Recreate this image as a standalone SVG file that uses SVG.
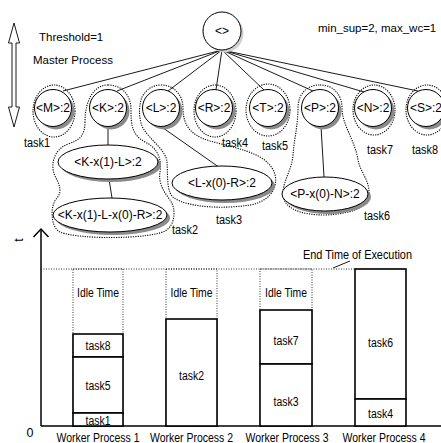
<svg xmlns="http://www.w3.org/2000/svg" width="441" height="443" viewBox="0 0 441 443">
  <style>
    text { font-family: "Liberation Sans", Arial, sans-serif; fill: #000; }
    .lbl { font-size: 11.5px; }
    .nar { font-size: 12.5px; }
    .nd { font-size: 12px; text-anchor: middle; }
    .mid { text-anchor: middle; }
    .node { fill: #fff; stroke: #000; stroke-width: 1; }
    .shadow { fill: #8a8a8a; stroke: none; }
    .group { fill: none; stroke: #000; stroke-width: 1.1; stroke-dasharray: 1.2 1.2; }
    .edge { stroke: #000; stroke-width: 0.9; fill: none; }
    .task { fill: #fff; stroke: #000; stroke-width: 1.6; }
    .idle { fill: none; stroke: #000; stroke-width: 0.8; stroke-dasharray: 1 1.5; }
    .axis { stroke: #000; stroke-width: 1.5; fill: none; }
  </style>

  <!-- side annotations -->
  <g id="level-arrow">
    <polygon points="14,23 19.5,43 16,43 16,107 19.5,107 14,127 8.5,107 12,107 12,43 8.5,43" fill="#fff" stroke="#000" stroke-width="0.9"/>
  </g>
  <text class="lbl" x="39" y="41">Threshold=1</text>
  <text class="lbl" x="33" y="64" font-size="11.3">Master Process</text>
  <text class="lbl" x="318" y="32" font-size="11.2">min_sup=2, max_wc=1</text>

  <!-- task groupings (dotted outlines) -->
  <g id="groups">
    <ellipse id="task1-outline" class="group" cx="54" cy="111" rx="21" ry="26"/>
    <path id="task2-outline" class="group" d="M108 85 C122 85 131 95 131 110 C131 125 132 135 145 142 C158 148 162 160 160 172 C158 183 164 192 170 200 C176 208 176 225 165 231 C150 239 80 240 60 232 C50 227 50 205 57 198 C62 192 60 186 56 178 C50 168 52 150 68 144 C80 140 85 135 85 122 C85 100 94 85 108 85 Z"/>
    <path id="task3-outline" class="group" d="M161 85 C174 85 183 95 183 108 C183 125 190 135 210 141 C235 148 262 152 272 168 C280 180 276 200 250 205 C225 209 190 208 174 198 C166 192 168 175 167 162 C166 150 150 140 143 128 C138 118 139 105 142 97 C146 90 152 85 161 85 Z"/>
    <ellipse id="task4-outline" class="group" cx="215" cy="111" rx="21" ry="26"/>
    <ellipse id="task5-outline" class="group" cx="268" cy="110" rx="22" ry="26"/>
    <path id="task6-outline" class="group" d="M320 85 C334 85 342 95 342 108 C342 125 355 140 358 160 C360 172 370 180 369 195 C368 208 350 214 325 215 C300 215 283 208 283 194 C283 180 292 170 293 155 C294 140 298 125 298 108 C298 95 306 85 320 85 Z"/>
    <ellipse id="task7-outline" class="group" cx="374" cy="110" rx="21" ry="25"/>
    <ellipse id="task8-outline" class="group" cx="427" cy="110" rx="21" ry="25"/>
  </g>

  <!-- tree edges -->
  <g id="connectors">
    <line class="edge" x1="222" y1="50" x2="63" y2="91"/>
    <line class="edge" x1="222" y1="50" x2="117" y2="91"/>
    <line class="edge" x1="222" y1="50" x2="168" y2="91"/>
    <line class="edge" x1="222" y1="50" x2="216" y2="89.5"/>
    <line class="edge" x1="222" y1="50" x2="264" y2="90"/>
    <line class="edge" x1="222" y1="50" x2="313" y2="91"/>
    <line class="edge" x1="222" y1="50" x2="364" y2="92"/>
    <line class="edge" x1="222" y1="50" x2="418" y2="91"/>
    <line class="edge" x1="108" y1="126.5" x2="108" y2="145"/>
    <line class="edge" x1="109" y1="179" x2="112" y2="198"/>
    <line class="edge" x1="161" y1="126.5" x2="218" y2="166.5"/>
    <line class="edge" x1="321" y1="126.5" x2="324" y2="177"/>
  </g>

  <!-- nodes -->
  <g id="root">
    <circle cx="224.5" cy="33.5" r="19" fill="#cfcfcf"/>
    <circle class="node" cx="222" cy="31" r="19"/>
    <text class="nd" x="222" y="35">&lt;&gt;</text>
  </g>
  <g id="n-M">
    <circle class="shadow" cx="56" cy="111" r="18.5"/>
    <circle class="node" cx="53" cy="108" r="18.5"/>
    <text class="nd" x="53" y="112">&lt;M&gt;:2</text>
  </g>
  <g id="n-K">
    <circle class="shadow" cx="111" cy="111" r="18.5"/>
    <circle class="node" cx="108" cy="108" r="18.5"/>
    <text class="nd" x="108" y="112">&lt;K&gt;:2</text>
  </g>
  <g id="n-L">
    <circle class="shadow" cx="164" cy="111" r="18.5"/>
    <circle class="node" cx="161" cy="108" r="18.5"/>
    <text class="nd" x="161" y="112">&lt;L&gt;:2</text>
  </g>
  <g id="n-R">
    <circle class="shadow" cx="217" cy="111" r="18.5"/>
    <circle class="node" cx="214" cy="108" r="18.5"/>
    <text class="nd" x="214" y="112">&lt;R&gt;:2</text>
  </g>
  <g id="n-T">
    <circle class="shadow" cx="271" cy="111" r="18.5"/>
    <circle class="node" cx="268" cy="108" r="18.5"/>
    <text class="nd" x="268" y="112">&lt;T&gt;:2</text>
  </g>
  <g id="n-P">
    <circle class="shadow" cx="323" cy="111" r="18.5"/>
    <circle class="node" cx="320" cy="108" r="18.5"/>
    <text class="nd" x="320" y="112">&lt;P&gt;:2</text>
  </g>
  <g id="n-N">
    <circle class="shadow" cx="376" cy="111" r="18.5"/>
    <circle class="node" cx="373" cy="108" r="18.5"/>
    <text class="nd" x="373" y="112">&lt;N&gt;:2</text>
  </g>
  <g id="n-S">
    <circle class="shadow" cx="429" cy="111" r="18.5"/>
    <circle class="node" cx="426" cy="108" r="18.5"/>
    <text class="nd" x="426" y="112">&lt;S&gt;:2</text>
  </g>
  <g id="n-KL">
    <ellipse class="shadow" cx="111" cy="165" rx="50" ry="17"/>
    <ellipse class="node" cx="108" cy="162" rx="50" ry="17"/>
    <text class="nd" x="108" y="166">&lt;K-x(1)-L&gt;:2</text>
  </g>
  <g id="n-KLR">
    <ellipse class="shadow" cx="113" cy="218" rx="57" ry="17"/>
    <ellipse class="node" cx="110" cy="215" rx="57" ry="17"/>
    <text class="nd" x="110" y="219">&lt;K-x(1)-L-x(0)-R&gt;:2</text>
  </g>
  <g id="n-LR">
    <ellipse class="shadow" cx="225" cy="186" rx="50" ry="17"/>
    <ellipse class="node" cx="222" cy="183" rx="50" ry="17"/>
    <text class="nd" x="222" y="187">&lt;L-x(0)-R&gt;:2</text>
  </g>
  <g id="n-PN">
    <ellipse class="shadow" cx="328" cy="197" rx="43" ry="17"/>
    <ellipse class="node" cx="325" cy="194" rx="43" ry="17"/>
    <text class="nd" x="325" y="198">&lt;P-x(0)-N&gt;:2</text>
  </g>

  <!-- task labels (condensed to the narrow face used in the figure) -->
  <g id="task-labels" class="nar">
    <text x="24" y="147" textLength="26" lengthAdjust="spacingAndGlyphs">task1</text>
    <text x="172" y="234" textLength="26" lengthAdjust="spacingAndGlyphs">task2</text>
    <text x="216" y="224" textLength="26" lengthAdjust="spacingAndGlyphs">task3</text>
    <text x="222" y="147" textLength="26" lengthAdjust="spacingAndGlyphs">task4</text>
    <text x="262" y="150" textLength="26" lengthAdjust="spacingAndGlyphs">task5</text>
    <text x="364" y="220" textLength="26" lengthAdjust="spacingAndGlyphs">task6</text>
    <text x="367" y="154" textLength="26" lengthAdjust="spacingAndGlyphs">task7</text>
    <text x="412" y="154" textLength="26" lengthAdjust="spacingAndGlyphs">task8</text>
  </g>

  <!-- schedule chart -->
  <g id="chart">
    <line class="axis" x1="41" y1="229" x2="41" y2="426"/>
    <polyline class="axis" points="33.5,237 41,229 48.5,237"/>
    <line class="axis" x1="41" y1="426" x2="441" y2="426"/>
    <text class="nar" transform="translate(23 240) rotate(-90)" text-anchor="middle">t</text>
    <text class="nar" x="30" y="437" text-anchor="middle">0</text>

    <line class="idle" x1="41" y1="269" x2="405" y2="269"/>
    <line class="edge" x1="333" y1="268" x2="350" y2="261"/>
    <text class="nar mid" x="357.5" y="259" font-size="13" textLength="109" lengthAdjust="spacingAndGlyphs">End Time of Execution</text>

    <g id="worker1">
      <rect class="idle" x="73" y="269" width="50" height="157"/>
      <text class="nar mid" x="98" y="297" textLength="42" lengthAdjust="spacingAndGlyphs">Idle Time</text>
      <rect class="task" x="73" y="334" width="50" height="23"/>
      <text class="nar mid" x="98" y="350" textLength="25" lengthAdjust="spacingAndGlyphs">task8</text>
      <rect class="task" x="73" y="357" width="50" height="56"/>
      <text class="nar mid" x="98" y="390" textLength="25" lengthAdjust="spacingAndGlyphs">task5</text>
      <rect class="task" x="73" y="413" width="50" height="13"/>
      <text class="nar mid" x="98" y="425" textLength="25" lengthAdjust="spacingAndGlyphs">task1</text>
      <text class="nar mid" x="98" y="441.5" textLength="83" lengthAdjust="spacingAndGlyphs">Worker Process 1</text>
    </g>
    <g id="worker2">
      <rect class="idle" x="166" y="269" width="51" height="157"/>
      <text class="nar mid" x="191.5" y="297" textLength="42" lengthAdjust="spacingAndGlyphs">Idle Time</text>
      <rect class="task" x="166" y="319" width="51" height="107"/>
      <text class="nar mid" x="191.5" y="380" textLength="25" lengthAdjust="spacingAndGlyphs">task2</text>
      <text class="nar mid" x="191.5" y="441.5" textLength="83" lengthAdjust="spacingAndGlyphs">Worker Process 2</text>
    </g>
    <g id="worker3">
      <rect class="idle" x="260" y="269" width="52" height="157"/>
      <text class="nar mid" x="286" y="297" textLength="42" lengthAdjust="spacingAndGlyphs">Idle Time</text>
      <rect class="task" x="260" y="310" width="52" height="54"/>
      <text class="nar mid" x="286" y="345" textLength="25" lengthAdjust="spacingAndGlyphs">task7</text>
      <rect class="task" x="260" y="364" width="52" height="62"/>
      <text class="nar mid" x="286" y="406" textLength="25" lengthAdjust="spacingAndGlyphs">task3</text>
      <text class="nar mid" x="287" y="441.5" textLength="83" lengthAdjust="spacingAndGlyphs">Worker Process 3</text>
    </g>
    <g id="worker4">
      <rect class="task" x="355" y="269" width="51" height="130"/>
      <text class="nar mid" x="380.5" y="347" textLength="25" lengthAdjust="spacingAndGlyphs">task6</text>
      <rect class="task" x="355" y="399" width="51" height="27"/>
      <text class="nar mid" x="380.5" y="418" textLength="25" lengthAdjust="spacingAndGlyphs">task4</text>
      <text class="nar mid" x="384" y="441.5" textLength="83" lengthAdjust="spacingAndGlyphs">Worker Process 4</text>
    </g>
  </g>
</svg>
